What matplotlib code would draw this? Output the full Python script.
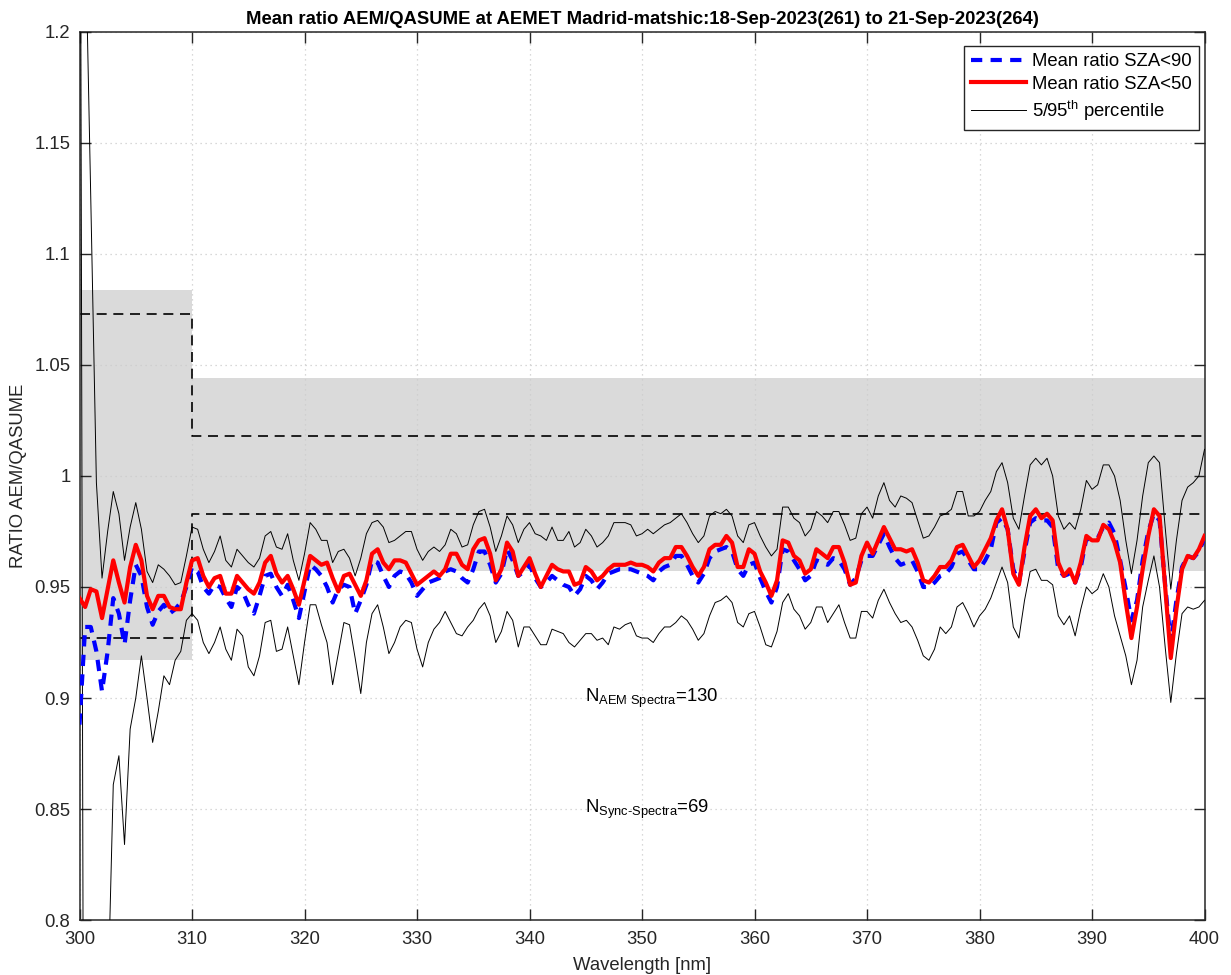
import numpy as np
import matplotlib
matplotlib.use('Agg')
import matplotlib.pyplot as plt

plt.rcParams['font.family'] = ['Liberation Sans', 'DejaVu Sans']
plt.rcParams['mathtext.fontset'] = 'custom'
plt.rcParams['mathtext.rm'] = 'Liberation Sans'
plt.rcParams['mathtext.it'] = 'Liberation Sans:italic'

# wavelength grid, 0.5 nm
wl = np.arange(300, 400.5, 0.5)

# mean ratio, SZA < 50
ratio_sza50 = [
    0.945, 0.941, 0.949, 0.948, 0.936, 0.949, 0.962, 0.952, 0.943, 0.959,
    0.969, 0.962, 0.946, 0.940, 0.946, 0.946, 0.941, 0.940, 0.940, 0.952,
    0.962, 0.963, 0.955, 0.950, 0.954, 0.955, 0.947, 0.947, 0.955, 0.952,
    0.949, 0.947, 0.952, 0.961, 0.964, 0.956, 0.952, 0.955, 0.949, 0.942,
    0.953, 0.964, 0.962, 0.960, 0.961, 0.954, 0.948, 0.955, 0.956, 0.951,
    0.946, 0.953, 0.965, 0.967, 0.961, 0.958, 0.962, 0.962, 0.961, 0.956,
    0.951, 0.953, 0.955, 0.957, 0.955, 0.958, 0.965, 0.965, 0.960, 0.958,
    0.967, 0.971, 0.972, 0.965, 0.953, 0.958, 0.970, 0.966, 0.955, 0.959,
    0.963, 0.956, 0.950, 0.955, 0.960, 0.958, 0.957, 0.957, 0.951, 0.952,
    0.959, 0.957, 0.953, 0.955, 0.958, 0.960, 0.960, 0.960, 0.961, 0.960,
    0.960, 0.959, 0.957, 0.961, 0.963, 0.963, 0.968, 0.968, 0.964, 0.959,
    0.955, 0.959, 0.967, 0.969, 0.969, 0.973, 0.970, 0.959, 0.959, 0.967,
    0.965, 0.957, 0.952, 0.946, 0.953, 0.971, 0.970, 0.964, 0.962, 0.956,
    0.958, 0.967, 0.965, 0.963, 0.968, 0.968, 0.961, 0.951, 0.952, 0.964,
    0.970, 0.965, 0.971, 0.977, 0.972, 0.967, 0.967, 0.966, 0.967, 0.961,
    0.953, 0.952, 0.955, 0.959, 0.959, 0.962, 0.968, 0.969, 0.964, 0.959,
    0.962, 0.967, 0.972, 0.980, 0.985, 0.976, 0.956, 0.951, 0.968, 0.982,
    0.985, 0.981, 0.983, 0.980, 0.961, 0.955, 0.958, 0.952, 0.961, 0.973,
    0.971, 0.971, 0.978, 0.976, 0.970, 0.961, 0.943, 0.927, 0.941, 0.958,
    0.973, 0.985, 0.982, 0.950, 0.918, 0.940, 0.958, 0.964, 0.963, 0.967,
    0.973,
]

# mean ratio, SZA < 90
ratio_sza90 = [
    0.888, 0.932, 0.932, 0.921, 0.903, 0.921, 0.945, 0.938, 0.924, 0.944,
    0.960, 0.955, 0.941, 0.933, 0.939, 0.942, 0.938, 0.940, 0.943, 0.950,
    0.959, 0.957, 0.950, 0.947, 0.951, 0.950, 0.945, 0.941, 0.950, 0.948,
    0.942, 0.938, 0.946, 0.955, 0.956, 0.950, 0.946, 0.951, 0.944, 0.936,
    0.948, 0.960, 0.958, 0.955, 0.950, 0.943, 0.949, 0.951, 0.950, 0.938,
    0.944, 0.951, 0.962, 0.961, 0.955, 0.950, 0.955, 0.957, 0.956, 0.952,
    0.946, 0.949, 0.952, 0.953, 0.954, 0.957, 0.958, 0.957, 0.954, 0.952,
    0.958, 0.966, 0.966, 0.960, 0.952, 0.956, 0.967, 0.962, 0.955, 0.957,
    0.960, 0.954, 0.950, 0.952, 0.955, 0.953, 0.951, 0.950, 0.946, 0.949,
    0.955, 0.953, 0.949, 0.952, 0.956, 0.957, 0.958, 0.958, 0.958, 0.957,
    0.956, 0.955, 0.953, 0.957, 0.959, 0.960, 0.964, 0.964, 0.960, 0.955,
    0.952, 0.956, 0.963, 0.966, 0.967, 0.968, 0.966, 0.958, 0.955, 0.960,
    0.961, 0.954, 0.948, 0.943, 0.950, 0.967, 0.966, 0.962, 0.958, 0.953,
    0.955, 0.962, 0.961, 0.960, 0.963, 0.962, 0.958, 0.951, 0.954, 0.962,
    0.964, 0.964, 0.969, 0.974, 0.968, 0.963, 0.960, 0.961, 0.962, 0.957,
    0.950, 0.950, 0.952, 0.955, 0.956, 0.959, 0.965, 0.966, 0.962, 0.958,
    0.958, 0.962, 0.967, 0.979, 0.981, 0.976, 0.958, 0.952, 0.966, 0.979,
    0.981, 0.980, 0.980, 0.977, 0.958, 0.955, 0.956, 0.952, 0.959, 0.972,
    0.971, 0.972, 0.977, 0.979, 0.974, 0.962, 0.949, 0.935, 0.944, 0.962,
    0.975, 0.983, 0.980, 0.951, 0.925, 0.944, 0.959, 0.964, 0.963, 0.966,
    0.972,
]

# 95th percentile
p95 = [
    1.300, 1.250, 1.125, 0.997, 0.954, 0.975, 0.993, 0.983, 0.962, 0.977,
    0.988, 0.976, 0.957, 0.952, 0.960, 0.958, 0.955, 0.951, 0.952, 0.964,
    0.977, 0.976, 0.967, 0.961, 0.966, 0.973, 0.962, 0.959, 0.967, 0.964,
    0.961, 0.959, 0.963, 0.973, 0.975, 0.968, 0.967, 0.974, 0.962, 0.953,
    0.965, 0.979, 0.976, 0.971, 0.971, 0.961, 0.966, 0.967, 0.963, 0.955,
    0.963, 0.974, 0.979, 0.980, 0.977, 0.970, 0.971, 0.973, 0.975, 0.975,
    0.967, 0.962, 0.966, 0.968, 0.966, 0.969, 0.976, 0.974, 0.968, 0.969,
    0.978, 0.984, 0.985, 0.977, 0.966, 0.973, 0.982, 0.978, 0.970, 0.976,
    0.979, 0.974, 0.973, 0.971, 0.977, 0.971, 0.971, 0.975, 0.968, 0.970,
    0.976, 0.973, 0.968, 0.970, 0.973, 0.979, 0.979, 0.979, 0.978, 0.973,
    0.974, 0.976, 0.974, 0.976, 0.978, 0.979, 0.981, 0.983, 0.979, 0.974,
    0.970, 0.973, 0.982, 0.984, 0.983, 0.985, 0.982, 0.973, 0.970, 0.978,
    0.979, 0.973, 0.968, 0.964, 0.967, 0.986, 0.986, 0.981, 0.979, 0.973,
    0.976, 0.984, 0.982, 0.979, 0.984, 0.984, 0.978, 0.971, 0.972, 0.983,
    0.986, 0.981, 0.991, 0.997, 0.989, 0.986, 0.991, 0.990, 0.988, 0.980,
    0.972, 0.973, 0.977, 0.982, 0.983, 0.985, 0.993, 0.993, 0.982, 0.982,
    0.984, 0.989, 0.993, 1.002, 1.006, 0.997, 0.981, 0.976, 0.991, 1.005,
    1.008, 1.005, 1.008, 1.000, 0.982, 0.976, 0.979, 0.976, 0.985, 0.998,
    0.994, 0.996, 1.005, 1.005, 1.000, 0.989, 0.971, 0.956, 0.971, 0.991,
    1.006, 1.009, 1.006, 0.977, 0.949, 0.971, 0.989, 0.995, 0.997, 1.000,
    1.012,
]

# 5th percentile
p05 = [
    1.450, 0.400, 0.450, 0.500, 0.550, 0.760, 0.861, 0.874, 0.834, 0.886,
    0.900, 0.919, 0.900, 0.880, 0.894, 0.910, 0.906, 0.917, 0.921, 0.935,
    0.938, 0.935, 0.925, 0.920, 0.925, 0.932, 0.922, 0.917, 0.931, 0.928,
    0.914, 0.910, 0.919, 0.934, 0.935, 0.921, 0.922, 0.932, 0.919, 0.906,
    0.925, 0.942, 0.942, 0.933, 0.925, 0.906, 0.920, 0.934, 0.933, 0.918,
    0.902, 0.925, 0.938, 0.942, 0.932, 0.920, 0.925, 0.932, 0.935, 0.934,
    0.922, 0.914, 0.925, 0.931, 0.934, 0.939, 0.934, 0.929, 0.928, 0.932,
    0.935, 0.940, 0.943, 0.937, 0.925, 0.930, 0.939, 0.935, 0.923, 0.932,
    0.932, 0.928, 0.924, 0.924, 0.931, 0.930, 0.929, 0.925, 0.923, 0.926,
    0.929, 0.929, 0.926, 0.927, 0.924, 0.932, 0.931, 0.933, 0.934, 0.928,
    0.927, 0.927, 0.925, 0.929, 0.932, 0.932, 0.934, 0.937, 0.935, 0.931,
    0.926, 0.929, 0.937, 0.943, 0.944, 0.946, 0.943, 0.934, 0.932, 0.938,
    0.939, 0.932, 0.924, 0.923, 0.930, 0.943, 0.947, 0.940, 0.937, 0.931,
    0.934, 0.941, 0.941, 0.934, 0.938, 0.942, 0.934, 0.927, 0.927, 0.939,
    0.939, 0.936, 0.944, 0.949, 0.943, 0.938, 0.934, 0.935, 0.932, 0.926,
    0.919, 0.917, 0.922, 0.932, 0.929, 0.932, 0.941, 0.943, 0.938, 0.932,
    0.937, 0.940, 0.945, 0.952, 0.959, 0.952, 0.932, 0.927, 0.944, 0.957,
    0.958, 0.953, 0.953, 0.951, 0.937, 0.933, 0.937, 0.928, 0.940, 0.950,
    0.947, 0.949, 0.956, 0.950, 0.937, 0.928, 0.919, 0.906, 0.917, 0.941,
    0.953, 0.964, 0.950, 0.923, 0.898, 0.920, 0.938, 0.941, 0.940, 0.941,
    0.944,
]

# uncertainty band (step edges at 300 / 310 / 400 nm)
band_x = [300, 310, 400]
band_lo = [0.917, 0.957, 0.957]
band_hi = [1.084, 1.044, 1.044]
limit_lo = [0.927, 0.983, 0.983]
limit_hi = [1.073, 1.018, 1.018]

n_aem = 130
n_sync = 69

xticks = [300, 310, 320, 330, 340, 350, 360, 370, 380, 390, 400]
yticks = [0.8, 0.85, 0.9, 0.95, 1.0, 1.05, 1.1, 1.15, 1.2]
ytick_labels = ['0.8', '0.85', '0.9', '0.95', '1', '1.05', '1.1', '1.15', '1.2']

axcol = (0.15, 0.15, 0.15)
fs = 13.3

fig = plt.figure(figsize=(12.31, 9.75), dpi=100)
ax = fig.add_axes([0.0646, 0.0564, 0.9139, 0.9108])

ax.fill_between(band_x, band_lo, band_hi, step='post', color=(0.855, 0.855, 0.855),
                lw=0, zorder=0.2)
ax.plot(band_x, limit_hi, drawstyle='steps-post', color='k', lw=1.2,
        linestyle=(0, (6, 4)), zorder=2)
ax.plot(band_x, limit_lo, drawstyle='steps-post', color='k', lw=1.2,
        linestyle=(0, (6, 4)), zorder=2)

l90, = ax.plot(wl, ratio_sza90, color='b', lw=3.0, linestyle=(0, (2.7, 2.0)),
               label='Mean ratio SZA<90', zorder=4)
l50, = ax.plot(wl, ratio_sza50, color='r', lw=3.0, label='Mean ratio SZA<50', zorder=5)
lp, = ax.plot(wl, p95, color='k', lw=0.7, label='5/95$^{\\mathrm{th}}$ percentile', zorder=3)
ax.plot(wl, p05, color='k', lw=0.7, zorder=3)

ax.text(344.9, 0.9, 'N$_{\\mathrm{AEM\\ Spectra}}$=%d' % n_aem, fontsize=fs,
        va='center', ha='left', color='k')
ax.text(344.9, 0.85, 'N$_{\\mathrm{Sync\\text{-}Spectra}}$=%d' % n_sync, fontsize=fs,
        va='center', ha='left', color='k')

ax.set_xlim(300, 400)
ax.set_ylim(0.8, 1.2)
ax.set_xticks(xticks)
ax.set_yticks(yticks)
ax.set_yticklabels(ytick_labels)

ax.set_axisbelow(True)
ax.grid(True, linestyle=(0, (1, 3)), color=(0.80, 0.80, 0.80), lw=0.9)
ax.tick_params(direction='in', top=True, right=True, length=8, width=1.0,
               labelsize=fs, colors=axcol, labelcolor=axcol)
ax.tick_params(axis='x', pad=8)
ax.tick_params(axis='y', pad=6.5)
for s in ax.spines.values():
    s.set_color(axcol)
    s.set_linewidth(1.1)

ax.set_xlabel('Wavelength [nm]', fontsize=fs, color=axcol, labelpad=6.5)
ax.set_ylabel('RATIO AEM/QASUME', fontsize=fs, color=axcol, labelpad=5)
ax.set_title('Mean ratio AEM/QASUME at AEMET Madrid-matshic:18-Sep-2023(261) to 21-Sep-2023(264)',
             fontsize=fs, fontweight='bold', pad=6)

leg = ax.legend(handles=[l90, l50, lp], loc='upper right', bbox_to_anchor=(0.9951, 0.9842),
                fontsize=fs, handlelength=3.0, handletextpad=0.3, borderaxespad=0,
                fancybox=False, framealpha=1, edgecolor=axcol, borderpad=0.4,
                labelspacing=0.3)
leg.get_frame().set_linewidth(1.0)

fig.savefig('out.png', dpi=100)
